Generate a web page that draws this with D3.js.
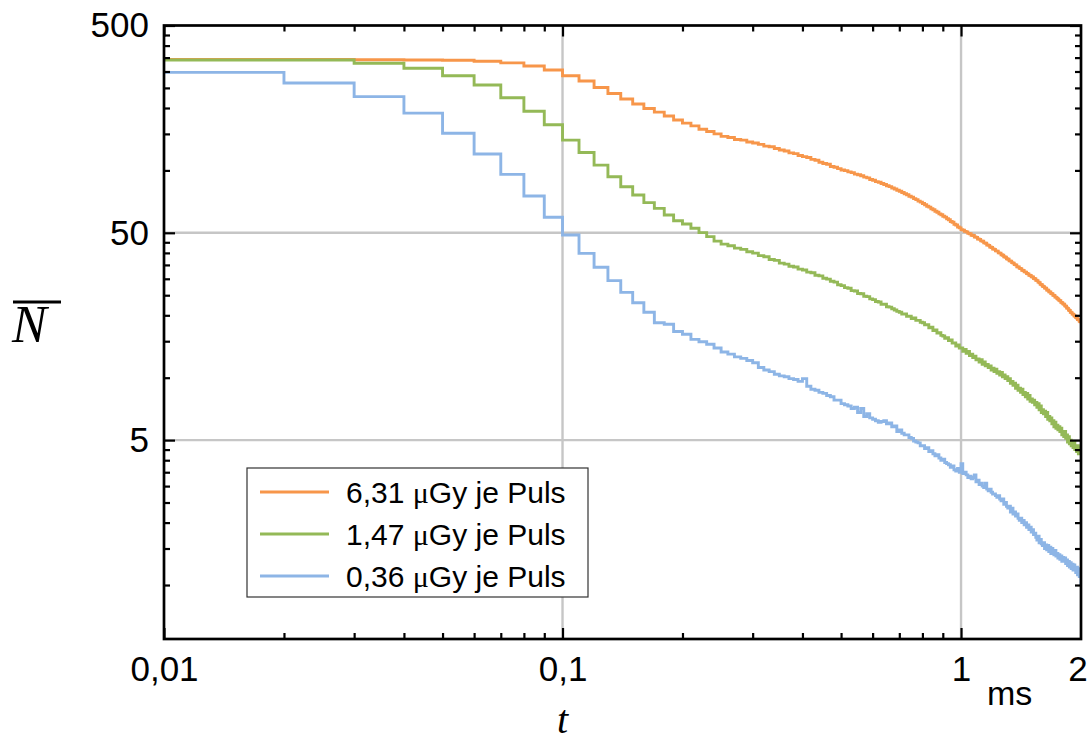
<!DOCTYPE html>
<html>
<head>
<meta charset="utf-8">
<script src="https://cdn.jsdelivr.net/npm/d3@7/dist/d3.min.js"></script>
<style>
  body { margin: 0; background: #fff; }
  svg { display: block; font-family: "Liberation Sans", Arial, sans-serif; }
</style>
</head>
<body>
<div id="chart"></div>
<script>
// time bins are 0.01 ms wide, first bin starts at 0.01 ms
const binWidth = 0.01;

// mean count N per bin
const n631 = [343, 343, 342, 341, 340, 336, 330, 319, 305, 286,
  270, 251, 235, 221, 209, 199, 191, 183, 175, 169,
  164, 158, 154, 150, 146, 144, 141, 140, 137, 135.5,
  133.5, 131, 130, 127.5, 125.5, 124, 121.5, 120.5, 118, 116.5,
  115.5, 113, 112, 109.5, 108, 107, 104.5, 103.5, 102, 100.5,
  99.8, 98.4, 97.6, 96, 95.3, 94.3, 92.8, 92, 90.4, 89.6,
  88.3, 87.6, 86.4, 85.5, 84.3, 83.5, 82.2, 81.4, 80.2, 79.3,
  78.2, 77.2, 76.3, 75.1, 74.3, 73.1, 72.3, 71.1, 70.3, 69.2,
  68.3, 67.2, 66.5, 65.3, 64.6, 63.5, 62.8, 61.7, 61.1, 60.1,
  59.5, 58.4, 57.8, 56.7, 56.2, 55, 54.5, 53.3, 52.8, 51.8,
  51.5, 50.8, 50.5, 49.7, 49.5, 48.7, 48.5, 47.7, 47.5, 46.7,
  46.5, 45.7, 45.5, 44.7, 44.5, 43.7, 43.5, 42.7, 42.5, 41.8,
  41.6, 40.9, 40.8, 40, 39.9, 39.2, 39, 38.3, 38.1, 37.5,
  37.3, 36.6, 36.5, 35.9, 35.7, 35.1, 35, 34.3, 34.2, 33.7,
  33.6, 33, 32.9, 32.4, 32.3, 31.8, 31.7, 31.2, 31.1, 30.7,
  30.6, 30.1, 30, 29.5, 29.4, 28.9, 28.7, 28.2, 28.1, 27.6,
  27.5, 27.1, 27, 26.5, 26.4, 26, 25.9, 25.5, 25.4, 25,
  24.9, 24.5, 24.4, 24.1, 23.9, 23.6, 23.5, 23.1, 23, 22.7,
  22.6, 22.2, 22.1, 21.7, 21.6, 21.2, 21.1, 20.7, 20.6, 20.3,
  20.2, 19.9, 19.8, 19.5, 19.4, 19.1, 19, 18.7, 18.6, 18.3];

const n147 = [341, 341, 329, 311, 286, 258, 224, 193, 166, 140,
  122, 106, 93.2, 83.4, 76.1, 69.9, 65.6, 60.9, 57.2, 55.1,
  52.6, 50.1, 47.9, 45.6, 44.1, 43.3, 42.2, 41.6, 40.5, 39.9,
  38.8, 38.3, 37.2, 36.8, 35.7, 35.3, 34.5, 34.2, 33.4, 33.1,
  32.3, 32.1, 31.2, 31, 30.2, 29.9, 29.2, 28.9, 28.1, 27.8,
  27.2, 27, 26.3, 26.2, 25.5, 25.4, 24.7, 24.6, 24, 23.8,
  23.3, 23.2, 22.6, 22.6, 22, 21.9, 21.5, 21.2, 20.9, 20.7,
  20.3, 20.3, 19.8, 19.8, 19.3, 19.4, 18.9, 18.9, 18.5, 18.4,
  18, 18, 17.4, 17.5, 16.9, 17, 16.4, 16.5, 16, 15.9,
  15.5, 15.6, 15.1, 15.2, 14.7, 14.7, 14.2, 14.4, 13.9, 13.9,
  13.4, 13.7, 13.1, 13.4, 12.8, 13, 12.5, 12.7, 12.2, 12.3,
  11.9, 12.2, 11.6, 11.9, 11.4, 11.6, 11.2, 11.4, 10.9, 11.1,
  10.7, 11, 10.5, 10.7, 10.3, 10.6, 10.1, 10.3, 9.9, 10.1,
  9.7, 9.9, 9.4, 9.6, 9.2, 9.4, 8.9, 9.2, 8.7, 8.9,
  8.5, 8.8, 8.3, 8.5, 8.1, 8.4, 7.9, 8.2, 7.7, 7.9,
  7.6, 7.8, 7.4, 7.6, 7.2, 7.5, 7, 7.3, 6.8, 7,
  6.7, 6.9, 6.5, 6.8, 6.3, 6.5, 6.2, 6.4, 6, 6.2,
  5.8, 6.1, 5.7, 5.9, 5.6, 5.8, 5.5, 5.7, 5.3, 5.5,
  5.2, 5.5, 5.1, 5.3, 4.9, 5.2, 4.8, 5, 4.7, 4.9,
  4.6, 4.9, 4.5, 4.7, 4.4, 4.7, 4.3, 4.6, 4.3, 4.4];

const n036 = [297, 264, 227, 189, 151, 120, 95.7, 75.2, 59.4, 48.8,
  39.8, 34.1, 29.4, 25.8, 23, 20.7, 18.4, 18.1, 16.7, 16.2,
  15.3, 14.9, 14.5, 13.9, 13.3, 13, 12.6, 12.4, 12.1, 11.8,
  11.2, 10.9, 10.7, 10.4, 10.2, 10.1, 9.9, 9.8, 9.6, 9.9,
  9.1, 8.8, 8.7, 8.5, 8.4, 8.2, 8.1, 7.8, 7.8, 7.5,
  7.4, 7.3, 7.1, 7.2, 6.8, 7.1, 6.5, 6.7, 6.4, 6.3,
  6.2, 6.1, 6.15, 6.2, 6.0, 6.05, 5.8, 5.85, 5.5, 5.6,
  5.4, 5.3, 5.3, 5.15, 5.1, 4.95, 4.9, 4.85, 4.7, 4.7,
  4.55, 4.6, 4.4, 4.45, 4.3, 4.2, 4.25, 4.1, 4.0, 4.05,
  3.9, 3.85, 3.8, 3.7, 3.75, 3.6, 3.55, 3.65, 3.5, 3.85,
  3.45, 3.5, 3.4, 3.3, 3.35, 3.25, 3.3, 3.4, 3.15, 3.2,
  3.05, 3.1, 3.0, 2.95, 3.1, 2.9, 2.85, 2.9, 2.8, 2.75,
  2.75, 2.7, 2.65, 2.7, 2.6, 2.55, 2.6, 2.45, 2.5, 2.4,
  2.35, 2.4, 2.25, 2.35, 2.2, 2.25, 2.15, 2.2, 2.1, 2.05,
  2.1, 2.0, 2.05, 1.95, 2.0, 1.9, 1.95, 1.85, 1.9, 1.8,
  1.85, 1.75, 1.78, 1.7, 1.65, 1.72, 1.6, 1.66, 1.58, 1.55,
  1.6, 1.5, 1.56, 1.48, 1.55, 1.45, 1.52, 1.42, 1.5, 1.44,
  1.4, 1.47, 1.38, 1.42, 1.35, 1.4, 1.33, 1.38, 1.3, 1.36,
  1.3, 1.35, 1.27, 1.32, 1.24, 1.3, 1.22, 1.28, 1.2, 1.26,
  1.18, 1.25, 1.2, 1.15, 1.22, 1.12, 1.2, 1.1, 1.15, 1.0];

const seriesNames = ["6,31", "1,47", "0,36"];
const seriesData = [n631, n147, n036];
const colors = ["#f7964a", "#94b957", "#8db5e6"];

const xMajor = [0.01, 0.1, 1];
const xMajorLabels = ["0,01", "0,1", "1"];
const xMinor = [0.02, 0.03, 0.04, 0.05, 0.06, 0.07, 0.08, 0.09,
  0.2, 0.3, 0.4, 0.5, 0.6, 0.7, 0.8, 0.9];
const yMajor = [5, 50, 500];
const yMajorLabels = ["5", "50", "500"];
const yMinor = [1, 1.5, 2, 2.5, 3, 3.5, 4, 4.5,
  10, 15, 20, 25, 30, 35, 40, 45,
  100, 150, 200, 250, 300, 350, 400, 450];

const width = 1089;
const height = 742;
const plotLeft = 164, plotRight = 1081, plotTop = 25.5, plotBottom = 639;

const xScale = d3.scaleLog().domain([0.01, 2]).range([plotLeft, plotRight]);
const yScale = d3.scaleLog().domain([0.549, 500]).range([plotBottom, plotTop]);

const svg = d3.select("#chart").append("svg")
  .attr("width", width)
  .attr("height", height);

svg.append("clipPath").attr("id", "plotclip")
  .append("rect")
  .attr("x", plotLeft).attr("y", plotTop)
  .attr("width", plotRight - plotLeft).attr("height", plotBottom - plotTop);

// GRID
const grid = svg.append("g");
grid.selectAll(".gx").data([0.1, 1]).enter().append("line")
  .attr("x1", d => xScale(d)).attr("x2", d => xScale(d))
  .attr("y1", plotTop).attr("y2", plotBottom)
  .attr("stroke", "#c6c6c6").attr("stroke-width", 2.4);
grid.selectAll(".gy").data([5, 50]).enter().append("line")
  .attr("x1", plotLeft).attr("x2", plotRight)
  .attr("y1", d => yScale(d)).attr("y2", d => yScale(d))
  .attr("stroke", "#c6c6c6").attr("stroke-width", 2.4);

// CURVES
const line = d3.line()
  .x(d => xScale(d.t))
  .y(d => yScale(d.v))
  .curve(d3.curveStepAfter);

seriesData.forEach((vals, i) => {
  const pts = vals.map((v, k) => ({t: (k + 1) * binWidth, v: v}));
  svg.append("path")
    .datum(pts)
    .attr("clip-path", "url(#plotclip)")
    .attr("fill", "none")
    .attr("stroke", colors[i])
    .attr("stroke-width", 2.9)
    .attr("d", line);
});

// AXES (ticks point inward)
function styleAxis(g) {
  g.select(".domain").remove();
  g.selectAll(".tick line").attr("stroke", "#000").attr("stroke-width", 2.2);
  g.selectAll(".tick text").attr("fill", "#000").style("font-size", "35px");
}

svg.append("g").attr("transform", `translate(0,${plotBottom})`)
  .call(d3.axisBottom(xScale).tickValues(xMajor).tickSize(-11).tickPadding(17)
    .tickFormat((d, i) => xMajorLabels[i]))
  .call(styleAxis);
svg.append("g").attr("transform", `translate(0,${plotBottom})`)
  .call(d3.axisBottom(xScale).tickValues(xMinor).tickSize(-6).tickFormat(""))
  .call(styleAxis);
svg.append("g").attr("transform", `translate(0,${plotTop})`)
  .call(d3.axisTop(xScale).tickValues(xMajor).tickSize(-11).tickFormat(""))
  .call(styleAxis);
svg.append("g").attr("transform", `translate(0,${plotTop})`)
  .call(d3.axisTop(xScale).tickValues(xMinor).tickSize(-6).tickFormat(""))
  .call(styleAxis);

svg.append("g").attr("transform", `translate(${plotLeft},0)`)
  .call(d3.axisLeft(yScale).tickValues(yMajor).tickSize(-11).tickPadding(15)
    .tickFormat((d, i) => yMajorLabels[i]))
  .call(styleAxis);
svg.append("g").attr("transform", `translate(${plotLeft},0)`)
  .call(d3.axisLeft(yScale).tickValues(yMinor).tickSize(-6).tickFormat(""))
  .call(styleAxis);
svg.append("g").attr("transform", `translate(${plotRight},0)`)
  .call(d3.axisRight(yScale).tickValues(yMajor).tickSize(-11).tickFormat(""))
  .call(styleAxis);
svg.append("g").attr("transform", `translate(${plotRight},0)`)
  .call(d3.axisRight(yScale).tickValues(yMinor).tickSize(-6).tickFormat(""))
  .call(styleAxis);

// frame
svg.append("rect")
  .attr("x", plotLeft).attr("y", plotTop)
  .attr("width", plotRight - plotLeft).attr("height", plotBottom - plotTop)
  .attr("fill", "none").attr("stroke", "#000").attr("stroke-width", 2.7);

// end label and unit
svg.append("text")
  .attr("x", xScale(2) - 3).attr("y", plotBottom + 17)
  .attr("dy", "0.71em")
  .attr("text-anchor", "middle")
  .style("font-size", "35px")
  .text("2");

svg.append("text")
  .attr("x", 987).attr("y", 705)
  .style("font-size", "34px")
  .text("ms");

// AXIS TITLES
svg.append("text")
  .attr("x", xScale(0.1)).attr("y", 733)
  .attr("text-anchor", "middle")
  .style("font-family", "'Liberation Serif', 'Times New Roman', serif")
  .style("font-style", "italic")
  .style("font-size", "40px")
  .text("t");

const nLabel = svg.append("text")
  .attr("x", 12).attr("y", 342)
  .style("font-family", "'Liberation Serif', 'Times New Roman', serif")
  .style("font-style", "italic")
  .style("font-size", "52px")
  .text("N");
const nb = nLabel.node().getBBox();
svg.append("line")
  .attr("x1", 13).attr("x2", 61)
  .attr("y1", nb.y + 6).attr("y2", nb.y + 6)
  .attr("stroke", "#000").attr("stroke-width", 3);

// LEGEND
const legend = svg.append("g");
legend.append("rect")
  .attr("x", 247).attr("y", 468)
  .attr("width", 341).attr("height", 129)
  .attr("fill", "#fff")
  .attr("stroke", "#333").attr("stroke-width", 1.2);

const rows = legend.selectAll(".row")
  .data(seriesNames)
  .enter()
  .append("g")
  .attr("transform", (d, i) => `translate(0,${492 + i * 42})`);

rows.append("line")
  .attr("x1", 260).attr("x2", 329)
  .attr("stroke", (d, i) => colors[i])
  .attr("stroke-width", 3);

const lt = rows.append("text")
  .attr("x", 346).attr("y", 0)
  .attr("dy", "0.36em")
  .style("font-size", "30px");
lt.append("tspan").text(d => d + " ");
lt.append("tspan")
  .style("font-family", "'Liberation Serif', 'Times New Roman', serif")
  .text("\u03bc");
lt.append("tspan").text("Gy je Puls");
</script>
</body>
</html>
